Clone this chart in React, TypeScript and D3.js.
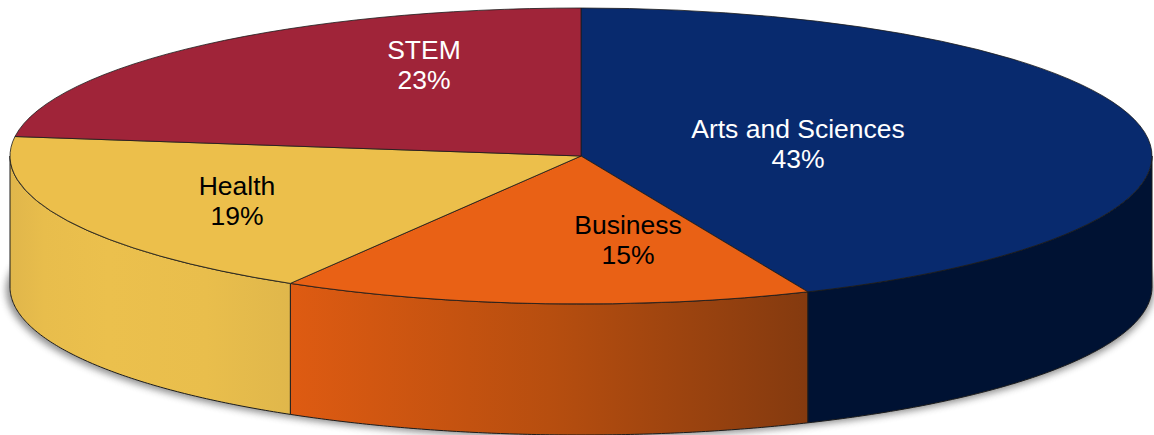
import React from "react";
import * as d3 from "d3";

const categories = ["Arts and Sciences", "Business", "Health", "STEM"];
const seriesValues = [43.5, 15.0, 18.6, 22.9];
const percentLabels = ["43%", "15%", "19%", "23%"];
const topColors = ["#082a6e", "#e96115", "#ecbf4b", "#a02439"];
const textColors = ["#ffffff", "#000000", "#000000", "#ffffff"];
const wallStops: [number, string][][] = [
  [[0, "#001233"], [1, "#001233"]],
  [[0, "#de5b12"], [0.5, "#b74e0f"], [1, "#843a0f"]],
  [[0, "#e0b64b"], [0.12, "#e8bd4c"], [0.35, "#ebc04d"], [0.7, "#e9be4c"], [1, "#e0b74b"]],
  [[0, "#a02439"], [1, "#a02439"]],
];

const W = 1154, H = 435;
const CX = 581, CY = 156, RX = 571, RY = 148, DEPTH = 131;
const labelAnchors: [number, number][] = [[798, 128], [628, 224], [237, 185], [424, 49]];

export default function App() {
  const arcs = d3.pie<number>().sort(null).value((d) => d)(seriesValues);
  const arc = d3.arc<d3.PieArcDatum<number>>().innerRadius(0).outerRadius(RX);
  const yScale = RY / RX;
  const px = (a: number) => CX + RX * Math.sin(a);
  const py = (a: number) => CY - RY * Math.cos(a);
  const line = d3.line<[number, number]>();

  const walls = arcs.map((s, i) => {
    const a0 = Math.max(s.startAngle, Math.PI / 2);
    const a1 = Math.min(s.endAngle, (3 * Math.PI) / 2);
    if (a1 <= a0) return null;
    const angles = d3.range(0, 121).map((k) => a0 + ((a1 - a0) * k) / 120);
    const top = angles.map((a) => [px(a), py(a)] as [number, number]);
    const bottom = angles.slice().reverse().map((a) => [px(a), py(a) + DEPTH] as [number, number]);
    const xs = top.map((p) => p[0]);
    return { i, d: line([...top, ...bottom]) + "Z", x0: d3.min(xs)!, x1: d3.max(xs)! };
  });

  return (
    <svg
      width={W}
      height={H}
      style={{ position: "absolute", left: 0, top: 0, background: "#fff" }}
      fontFamily="'Liberation Sans', Arial, sans-serif"
    >
      <defs>
        <filter id="shadow" x="-5%" y="-10%" width="110%" height="125%">
          <feGaussianBlur stdDeviation="3.5" />
        </filter>
        {walls.map((w) =>
          w ? (
            <linearGradient key={w.i} id={`wall${w.i}`} gradientUnits="userSpaceOnUse" x1={w.x0} x2={w.x1} y1={0} y2={0}>
              {wallStops[w.i].map(([o, c], k) => (
                <stop key={k} offset={o} stopColor={c} />
              ))}
            </linearGradient>
          ) : null
        )}
      </defs>
      <ellipse cx={CX - 1} cy={CY + DEPTH + 3} rx={RX + 3} ry={RY} fill="#555" opacity={0.65} filter="url(#shadow)" />
      {walls.map((w) =>
        w ? <path key={w.i} d={w.d} fill={`url(#wall${w.i})`} stroke="#1c1c1c" strokeWidth={1} strokeLinejoin="round" /> : null
      )}
      <g transform={`translate(${CX},${CY}) scale(1,${yScale})`}>
        {arcs.map((s, i) => (
          <path
            key={i}
            d={arc(s)!}
            fill={topColors[i]}
            stroke="#1c1c1c"
            strokeWidth={0.8}
            vectorEffect="non-scaling-stroke"
            strokeLinejoin="round"
          />
        ))}
      </g>
      {categories.map((c, i) => (
        <text key={c} x={labelAnchors[i][0]} y={labelAnchors[i][1]} textAnchor="middle" fontSize={26.5} fill={textColors[i]}>
          <tspan x={labelAnchors[i][0]} dy="0.36em">{c}</tspan>
          <tspan x={labelAnchors[i][0]} dy={30.5}>{percentLabels[i]}</tspan>
        </text>
      ))}
    </svg>
  );
}
